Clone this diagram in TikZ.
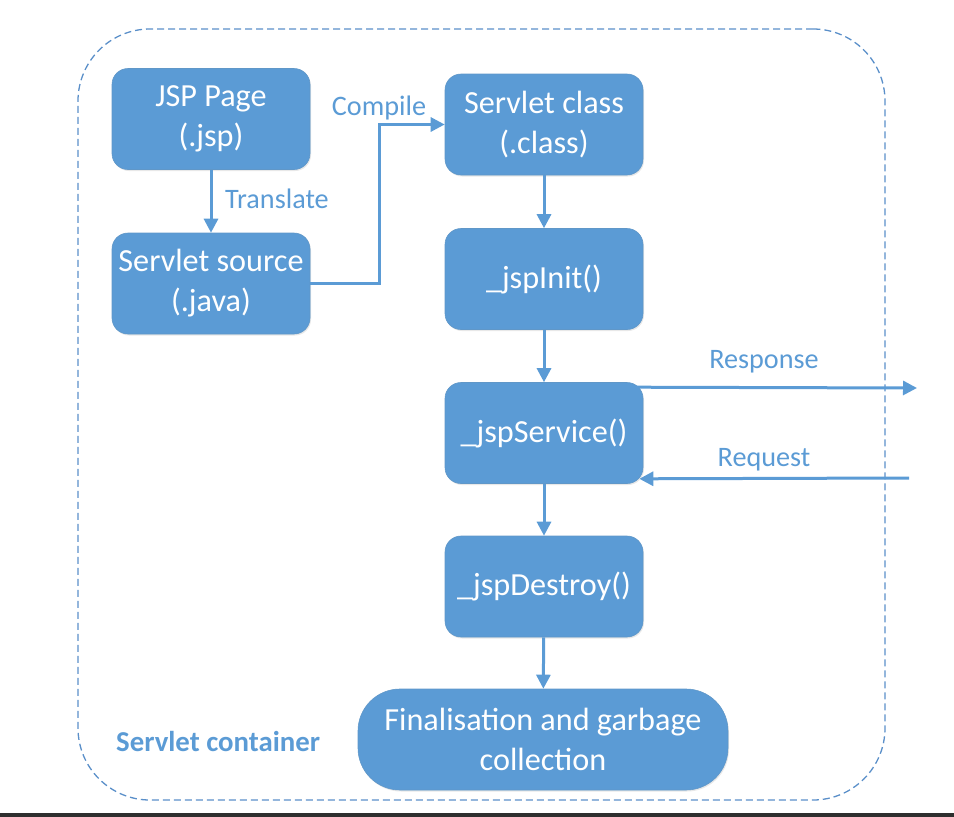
\documentclass[tikz,border=0pt]{standalone}
\usepackage{fontspec}
\setmainfont{Carlito}
\usetikzlibrary{arrows.meta,shadows,calc}
\definecolor{boxblue}{HTML}{5B9BD5}
\definecolor{dashblue}{HTML}{5A8FC9}
\definecolor{barcol}{HTML}{2E2E2E}
\begin{document}
\begin{tikzpicture}[x=1pt,y=-1pt,
  procbox/.style={rectangle, rounded corners=16pt, fill=boxblue, draw=boxblue!85!gray, line width=0.6pt,
    minimum width=198pt, minimum height=101pt, text=white, align=center, inner sep=0pt,
    font=\fontsize{32.2}{40}\selectfont,
    drop shadow={opacity=0.18, shadow xshift=1pt, shadow yshift=-1.5pt}},
  arr/.style={draw=boxblue, line width=3pt, -{Triangle[length=14pt,width=14pt]}},
  lbl/.style={text=boxblue, font=\fontsize{28.2}{33}\selectfont, inner sep=0pt}]
\useasboundingbox (0,0) rectangle (954,817);
% bottom bar
\fill[barcol] (0,813) rectangle (954,817);
% container
\node[draw=dashblue, line width=1.3pt, dash pattern=on 7pt off 4pt, rounded corners=72pt,
  minimum width=807pt, minimum height=771pt, inner sep=0pt] (container) at (481.5,414.5) {};
\node[anchor=west, text=boxblue, font=\fontsize{28.8}{33}\selectfont\bfseries, inner sep=0pt] (contlbl) at (116,741) {Servlet container};
% boxes
\node[procbox] (jsp) at (211,119) {JSP Page\\(.jsp)};
\node[procbox] (src) at (211,283.5) {Servlet source\\(.java)};
\node[procbox] (cls) at (544,124.5) {Servlet class\\(.class)};
\node[procbox] (init) at (544,279) {\_jspInit()};
\node[procbox] (svc) at (544,433) {\_jspService()};
\node[procbox] (dest) at (544,586.5) {\_jspDestroy()};
\node[procbox, minimum width=370pt, rounded corners=42pt] (fin) at (543,739.5) {Finalisation and garbage\\collection};
% connectors
\draw[arr] (jsp) -- (src);
\node[lbl, anchor=west] (translbl) at (225,199) {Translate};
\draw[arr] (src.east) -- ++(69,0) |- (cls.west);
\node[lbl] (complbl) at (379,108) {Compile};
\draw[arr] (cls) -- (init);
\draw[arr] (init) -- (svc);
\draw[arr] (svc) -- (dest);
\draw[arr] (dest) -- (fin);
\coordinate (respEnd) at (917,388);
\coordinate (reqStart) at (909,478);
\draw[arr] ([xshift=-8pt,yshift=-5pt]svc.north east) -- (respEnd);
\node[lbl] (resplbl) at (764,362) {Response};
\draw[arr] (reqStart) -- ([xshift=-4pt,yshift=5pt]svc.south east);
\node[lbl] (reqlbl) at (764,460) {Request};
\end{tikzpicture}
\end{document}
